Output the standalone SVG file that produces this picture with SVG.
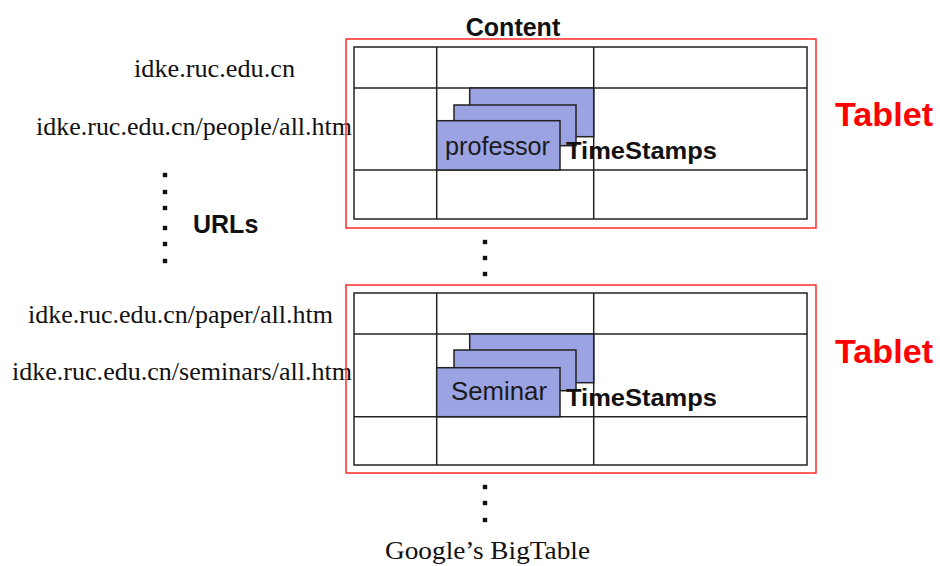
<svg xmlns="http://www.w3.org/2000/svg" width="940" height="566" viewBox="0 0 940 566">
  <style>
    .url { font-family: "Liberation Serif", "Times New Roman", serif; font-size: 26px; fill: #111; }
    .lbl { font-family: "Liberation Sans", Arial, sans-serif; font-weight: bold; fill: #111; }
    .tab { font-family: "Liberation Sans", Arial, sans-serif; font-weight: bold; font-size: 33px; fill: #ff0000; }
    .card { fill: #9ba3e3; stroke: #222; stroke-width: 1.5; }
    .cardtxt { font-family: "Liberation Sans", Arial, sans-serif; font-size: 25px; fill: #1a1a1a; }
    .frame { fill: none; stroke: #ff2a2a; stroke-width: 1.5; }
    .grid { fill: none; stroke: #222; stroke-width: 1.5; }
    .dot { fill: #111; }
  </style>
  <defs>
    <rect id="sq" x="-2.2" y="-2.2" width="4.4" height="4.4" class="dot"/>
  </defs>

  <rect width="940" height="566" fill="#ffffff"/>

  <!-- column header -->
  <text class="lbl" x="513" y="36" font-size="25" text-anchor="middle">Content</text>

  <!-- row keys -->
  <g id="urls">
    <text class="url" x="134" y="77" textLength="161" lengthAdjust="spacingAndGlyphs">idke.ruc.edu.cn</text>
    <text class="url" x="36" y="135" textLength="316" lengthAdjust="spacingAndGlyphs">idke.ruc.edu.cn/people/all.htm</text>
    <text class="url" x="28" y="323" textLength="305" lengthAdjust="spacingAndGlyphs">idke.ruc.edu.cn/paper/all.htm</text>
    <text class="url" x="12" y="380" textLength="340" lengthAdjust="spacingAndGlyphs">idke.ruc.edu.cn/seminars/all.htm</text>
    <text class="lbl" x="193" y="233" font-size="25">URLs</text>
  </g>

  <!-- first tablet -->
  <g id="tablet1">
    <rect class="frame" x="346" y="39" width="470" height="189"/>
    <rect class="grid" x="354" y="47" width="453" height="172"/>
    <line class="grid" x1="354" y1="88" x2="807" y2="88"/>
    <line class="grid" x1="354" y1="170" x2="807" y2="170"/>
    <line class="grid" x1="436.7" y1="47" x2="436.7" y2="219"/>
    <line class="grid" x1="593.7" y1="47" x2="593.7" y2="219"/>
    <rect class="card" x="469.7" y="88" width="124" height="48.7"/>
    <rect class="card" x="454" y="105" width="122" height="40.7"/>
    <rect class="card" x="436.7" y="120.7" width="123.3" height="49.3"/>
    <text class="cardtxt" x="445" y="155" textLength="105" lengthAdjust="spacingAndGlyphs">professor</text>
    <text class="lbl" x="566" y="159" font-size="24" textLength="151" lengthAdjust="spacingAndGlyphs">TimeStamps</text>
    <text class="tab" x="835" y="126" textLength="98" lengthAdjust="spacingAndGlyphs">Tablet</text>
  </g>

  <!-- second tablet -->
  <g id="tablet2">
    <rect class="frame" x="346" y="285" width="470" height="188"/>
    <rect class="grid" x="354" y="293" width="453" height="172"/>
    <line class="grid" x1="354" y1="334" x2="807" y2="334"/>
    <line class="grid" x1="354" y1="416.7" x2="807" y2="416.7"/>
    <line class="grid" x1="436.7" y1="293" x2="436.7" y2="465"/>
    <line class="grid" x1="593.7" y1="293" x2="593.7" y2="465"/>
    <rect class="card" x="469.7" y="334" width="124" height="48.7"/>
    <rect class="card" x="454" y="350" width="122" height="40.7"/>
    <rect class="card" x="436.7" y="367.7" width="123.3" height="49"/>
    <text class="cardtxt" x="451" y="400" textLength="96" lengthAdjust="spacingAndGlyphs">Seminar</text>
    <text class="lbl" x="566" y="406" font-size="24" textLength="151" lengthAdjust="spacingAndGlyphs">TimeStamps</text>
    <text class="tab" x="835" y="363" textLength="98" lengthAdjust="spacingAndGlyphs">Tablet</text>
  </g>

  <!-- ellipsis markers -->
  <g id="connectors">
    <use href="#sq" x="165" y="175"/>
    <use href="#sq" x="165" y="192"/>
    <use href="#sq" x="165" y="208"/>
    <use href="#sq" x="165" y="228"/>
    <use href="#sq" x="165" y="244"/>
    <use href="#sq" x="165" y="261"/>
    <use href="#sq" x="485" y="242"/>
    <use href="#sq" x="485" y="258"/>
    <use href="#sq" x="485" y="274"/>
    <use href="#sq" x="485" y="487"/>
    <use href="#sq" x="485" y="503"/>
    <use href="#sq" x="485" y="520"/>
  </g>

  <text class="url" x="385" y="559" font-size="27" textLength="205" lengthAdjust="spacingAndGlyphs">Google’s BigTable</text>
</svg>
